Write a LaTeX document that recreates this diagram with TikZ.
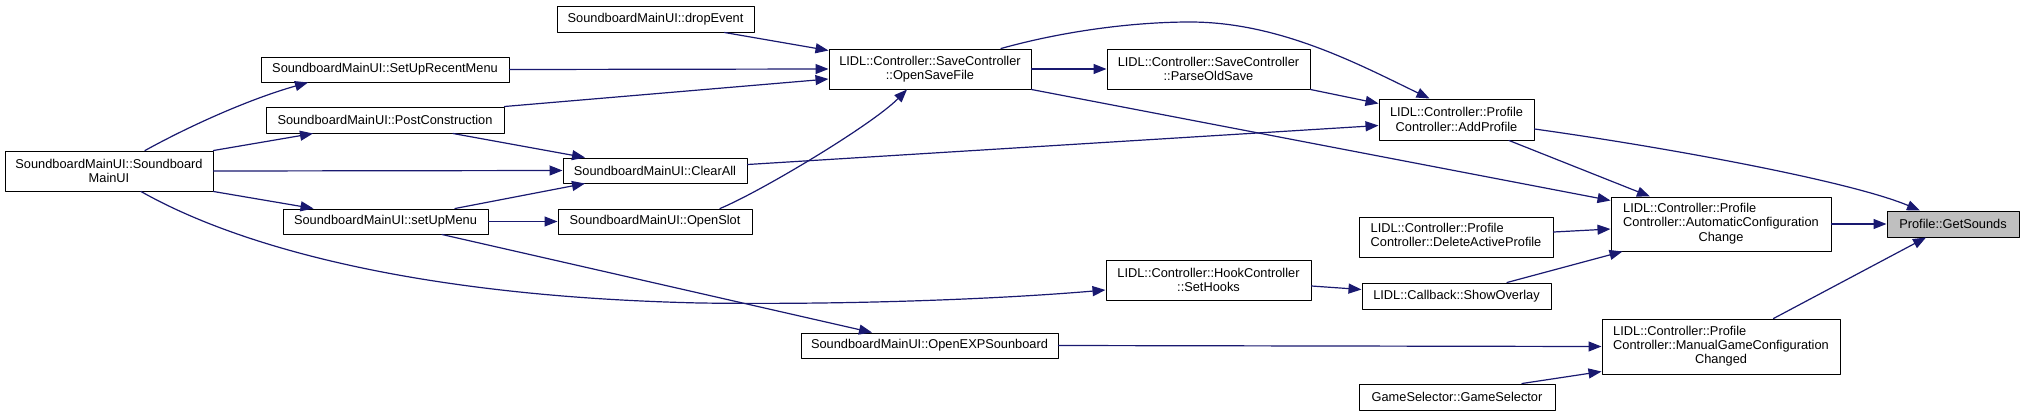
\documentclass[tikz,border=0pt]{standalone}
\usepackage{fontspec}
\setmainfont{Liberation Sans}
\usetikzlibrary{arrows.meta,calc}
\definecolor{edgeblue}{HTML}{191970}
\definecolor{rootgray}{HTML}{BFBFBF}
\tikzset{
  fn/.style={draw=black, line width=1pt, fill=white, inner sep=0pt, align=center,
    font=\fontsize{12.8}{14.2}\selectfont},
  root/.style={fn, fill=rootgray},
  call/.style={draw=edgeblue, line width=1.2pt, -{Triangle[length=13pt,width=10pt]}}
}
\newcommand{\leftlines}[1]{\begin{tabular}{@{}l@{}}#1\end{tabular}}
\begin{document}
\begin{tikzpicture}[x=1pt, y=-1pt, line join=round, line cap=round]
\path[use as bounding box, fill=white] (0,0) rectangle (2024,416);
\node[fn, minimum width=197pt, minimum height=26pt] (drop) at (655.5,19) {SoundboardMainUI::dropEvent};
\node[fn, minimum width=248pt, minimum height=25pt] (recent) at (385,69.5) {SoundboardMainUI::SetUpRecentMenu};
\node[fn, minimum width=238pt, minimum height=26pt] (postc) at (385,120) {SoundboardMainUI::PostConstruction};
\node[fn, minimum width=208pt, minimum height=40pt] (smui) at (109,171) {SoundboardMainUI::Soundboard\\MainUI};
\node[fn, minimum width=184pt, minimum height=25pt] (clearall) at (655,170.5) {SoundboardMainUI::ClearAll};
\node[fn, minimum width=205pt, minimum height=25pt] (setupmenu) at (385.5,221.5) {SoundboardMainUI::setUpMenu};
\node[fn, minimum width=194pt, minimum height=25pt] (openslot) at (655,221.5) {SoundboardMainUI::OpenSlot};
\node[fn, minimum width=202pt, minimum height=40pt] (opensave) at (930,69) {LIDL::Controller::SaveController\\::OpenSaveFile};
\node[fn, minimum width=203pt, minimum height=40pt] (parse) at (1208.5,69) {LIDL::Controller::SaveController\\::ParseOldSave};
\node[fn, minimum width=205pt, minimum height=40pt] (sethooks) at (1208.5,280) {LIDL::Controller::HookController\\::SetHooks};
\node[fn, minimum width=257pt, minimum height=25pt] (openexp) at (929.5,345.5) {SoundboardMainUI::OpenEXPSounboard};
\node[fn, minimum width=155pt, minimum height=41pt] (addprof) at (1456.5,119.5) {LIDL::Controller::Profile\\Controller::AddProfile};
\node[fn, minimum width=194pt, minimum height=40pt] (delprof) at (1456,237) {\leftlines{LIDL::Controller::Profile\\Controller::DeleteActiveProfile}};
\node[fn, minimum width=189pt, minimum height=26pt] (overlay) at (1456.5,296) {LIDL::Callback::ShowOverlay};
\node[fn, minimum width=196pt, minimum height=26pt] (gamesel) at (1457,397) {GameSelector::GameSelector};
\node[fn, minimum width=220pt, minimum height=54pt] (autocfg) at (1721,224) {\leftlines{LIDL::Controller::Profile\\Controller::AutomaticConfiguration\\\multicolumn{1}{@{}c@{}}{Change}}};
\node[fn, minimum width=238pt, minimum height=55pt] (manual) at (1721,346.5) {\leftlines{LIDL::Controller::Profile\\Controller::ManualGameConfiguration\\\multicolumn{1}{@{}c@{}}{Changed}}};
\node[root, minimum width=132pt, minimum height=26pt] (getsounds) at (1953,224) {Profile::GetSounds};
\draw[call] ($(smui.north)+(36,0)$) .. controls (195,123) and (253,98) .. ($(recent.south)+(-77,0)$);
\draw[call] (smui.north east) -- ($(postc.south)+(-72,0)$);
\draw[call] (smui.east) -- (clearall.west);
\draw[call] (smui.south east) -- ($(setupmenu.north)+(-72,0)$);
\draw[call] ($(smui.south)+(32,0)$) .. controls (195,222) and (350,295) .. (700,303) .. controls (850,305) and (1000,299) .. ($(sethooks.west)+(0,10)$);
\draw[call] ($(postc.south)+(68,0)$) -- ($(clearall.north)+(-70,0)$);
\draw[call] ($(setupmenu.north)+(69.5,0)$) -- ($(clearall.south)+(-70,0)$);
\draw[call] (setupmenu.east) -- (openslot.west);
\draw[call] ($(setupmenu.south)+(56.5,0)$) -- ($(openexp.north)+(-57.5,0)$);
\draw[call] (recent.east) -- (opensave.west);
\draw[call] (postc.north east) -- ($(opensave.west)+(0,10)$);
\draw[call] ($(drop.south)+(69,0)$) -- ($(opensave.north west)+(0,2)$);
\draw[call] ($(openslot.north)+(65,0)$) .. controls (760,192) and (872,125) .. ($(opensave.south)+(-23,0)$);
\draw[call] (opensave.east) -- (parse.west);
\draw[call] ($(opensave.north)+(71,0)$) .. controls (1060,32) and (1130,22) .. (1190,22) .. controls (1280,22) and (1360,65) .. ($(addprof.north)+(-27,0)$);
\draw[call] (parse.south east) -- ($(addprof.north west)+(0,5)$);
\draw[call] ($(clearall.east)+(0,-6)$) -- ($(addprof.west)+(0,6)$);
\draw[call] (opensave.south east) -- ($(autocfg.north west)+(0,4)$);
\draw[call] ($(addprof.south)+(52.5,0)$) -- ($(autocfg.north)+(-71,0)$);
\draw[call] ($(addprof.east)+(0,9.5)$) .. controls (1664,147) and (1850,181) .. ($(getsounds.north)+(-33,0)$);
\draw[call] ($(delprof.east)+(0,-5)$) -- ($(autocfg.west)+(0,5)$);
\draw[call] ($(overlay.north)+(50.5,0)$) -- ($(autocfg.south west)+(12,0)$);
\draw[call] ($(sethooks.east)+(0,6)$) -- ($(overlay.west)+(0,-6.5)$);
\draw[call] (autocfg.east) -- (getsounds.west);
\draw[call] ($(manual.north)+(52.5,0)$) -- ($(getsounds.south)+(-27,0)$);
\draw[call] (openexp.east) -- (manual.west);
\draw[call] ($(gamesel.north)+(65,0)$) -- ($(manual.south west)+(0,-3)$);
\end{tikzpicture}
\end{document}
